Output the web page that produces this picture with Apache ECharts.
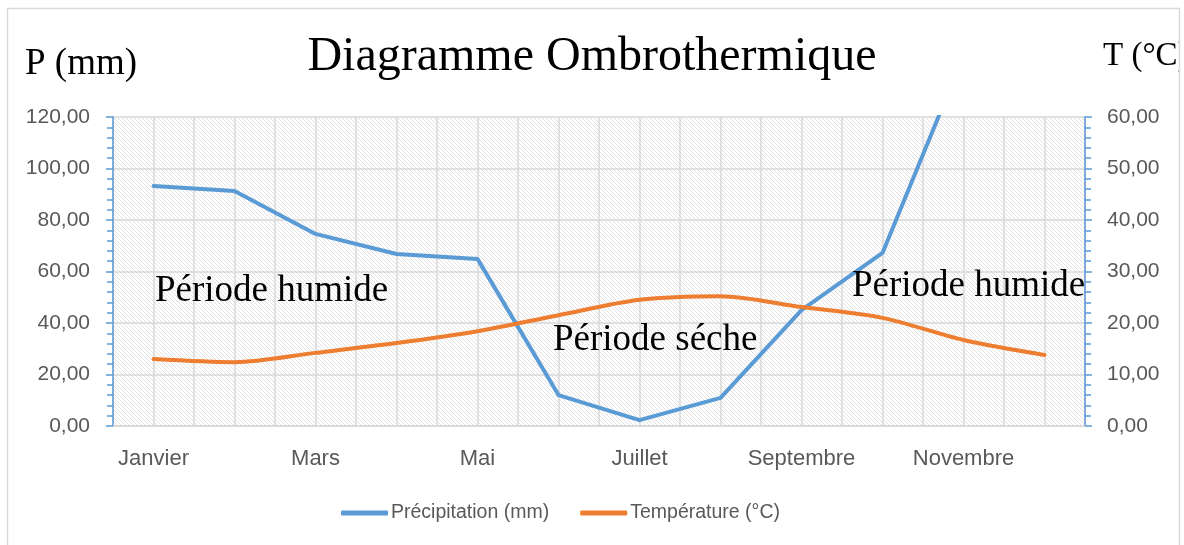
<!DOCTYPE html>
<html>
<head>
<meta charset="utf-8">
<title>Diagramme Ombrothermique</title>
<script src="https://cdn.jsdelivr.net/npm/echarts@6/dist/echarts.min.js"></script>
<style>
  html, body { margin: 0; padding: 0; background: #fff; }
  #chart { width: 1184px; height: 545px; }
</style>
</head>
<body>
<div id="chart"></div>
<script>
// données
var months = ['Janvier', 'Février', 'Mars', 'Avril', 'Mai', 'Juin', 'Juillet', 'Août', 'Septembre', 'Octobre', 'Novembre', 'Décembre'];
var precipitation = [93.2, 91.3, 74.6, 66.8, 64.9, 12.0, 2.3, 10.9, 45.0, 67.2, 143.7, 130.0];
var temperature = [13.0, 12.4, 14.2, 16.1, 18.4, 21.5, 24.5, 25.2, 23.1, 21.0, 16.7, 13.8];
var pAxis = [0, 120, 20];   // min, max, pas (mm)
var tAxis = [0, 60, 10];    // min, max, pas (°C)

var blue = '#5B9BD5', orange = '#ED7D31', grey = '#595959', gridCol = '#d9d9d9';
var sans = '"Liberation Sans", Arial, sans-serif';
var serif = '"Liberation Serif", "Times New Roman", serif';

// fond hachuré de la zone de tracé
function hatch() {
    var c = document.createElement('canvas');
    c.width = 8; c.height = 8;
    var ctx = c.getContext('2d');
    ctx.fillStyle = '#fff';
    ctx.fillRect(0, 0, 8, 8);
    ctx.strokeStyle = '#e2e2e2';
    ctx.lineWidth = 1;
    for (var k = -8; k <= 8; k += 4) {
        ctx.beginPath();
        ctx.moveTo(k, 0);
        ctx.lineTo(k + 8, 8);
        ctx.stroke();
    }
    return c;
}

function fmt(v) {
    return v.toFixed(2).replace('.', ',');
}

var myChart = echarts.init(document.getElementById('chart'));
var option = {
    backgroundColor: '#fff',
    animation: false,
    grid: {
        left: 113, right: 99, top: 117, bottom: 119,
        show: true,
        borderWidth: 0,
        backgroundColor: {image: hatch(), repeat: 'repeat'}
    },
    legend: {
        bottom: 17,
        left: 336,
        itemWidth: 47,
        itemHeight: 5,
        itemGap: 31,
        icon: 'roundRect',
        textStyle: {fontFamily: sans, fontSize: 19.5, color: grey, padding: [0, 0, 0, -2]},
        data: ['Précipitation (mm)', 'Température (°C)']
    },
    xAxis: [
        {
            type: 'category',
            data: months,
            boundaryGap: true,
            axisLine: {lineStyle: {color: gridCol, width: 1.5}},
            axisTick: {interval: 0, length: 7, lineStyle: {color: gridCol, width: 1.5}},
            axisLabel: {interval: 1, margin: 22, fontFamily: sans, fontSize: 22, color: grey},
            splitLine: {show: false}
        },
        {
            // grille verticale (toutes les demi-catégories)
            type: 'value',
            min: 0, max: 24, interval: 1,
            position: 'top',
            axisLine: {show: false},
            axisTick: {show: false},
            axisLabel: {show: false},
            splitLine: {show: true, lineStyle: {color: gridCol, width: 1.5}}
        }
    ],
    yAxis: [
        {
            type: 'value',
            min: pAxis[0], max: pAxis[1], interval: pAxis[2],
            axisLine: {show: true, lineStyle: {color: blue, width: 1.5}},
            axisTick: {show: true, length: 7, lineStyle: {color: blue, width: 1.5}},
            minorTick: {show: true, splitNumber: 5, length: 6, lineStyle: {color: blue, width: 1.5}},
            axisLabel: {margin: 23, fontFamily: sans, fontSize: 21, color: grey, formatter: fmt},
            splitLine: {show: true, lineStyle: {color: gridCol, width: 1.5}}
        },
        {
            type: 'value',
            position: 'right',
            min: tAxis[0], max: tAxis[1], interval: tAxis[2],
            axisLine: {show: true, lineStyle: {color: blue, width: 1.5}},
            axisTick: {show: true, length: 7, lineStyle: {color: blue, width: 1.5}},
            minorTick: {show: true, splitNumber: 5, length: 6, lineStyle: {color: blue, width: 1.5}},
            axisLabel: {margin: 22, fontFamily: sans, fontSize: 21, color: grey, formatter: fmt},
            splitLine: {show: false}
        }
    ],
    series: [
        {
            name: 'Précipitation (mm)',
            type: 'line',
            xAxisIndex: 0,
            yAxisIndex: 0,
            data: precipitation,
            symbol: 'none',
            clip: true,
            itemStyle: {color: blue},
            lineStyle: {color: blue, width: 4, cap: 'round', join: 'round'},
            z: 3
        },
        {
            name: 'Température (°C)',
            type: 'line',
            xAxisIndex: 0,
            yAxisIndex: 1,
            data: temperature,
            symbol: 'none',
            smooth: 0.3,
            itemStyle: {color: orange},
            lineStyle: {color: orange, width: 4, cap: 'round', join: 'round'},
            z: 4
        }
    ],
    graphic: [
        {type: 'text', x: 592, y: 57, z: 10, style: {text: 'Diagramme Ombrothermique', font: '48px ' + serif, fill: '#000', align: 'center', verticalAlign: 'middle'}},
        {type: 'text', x: 25, y: 64, z: 10, style: {text: 'P (mm)', font: '37px ' + serif, fill: '#000', align: 'left', verticalAlign: 'middle'}},
        {type: 'text', x: 1103, y: 56, z: 10, style: {text: 'T (°C)', font: '33px ' + serif, fill: '#000', align: 'left', verticalAlign: 'middle'}},
        {type: 'text', x: 155, y: 291, z: 10, style: {text: 'Période humide', font: '37px ' + serif, fill: '#000', align: 'left', verticalAlign: 'middle'}},
        {type: 'text', x: 553, y: 340, z: 10, style: {text: 'Période séche', font: '37px ' + serif, fill: '#000', align: 'left', verticalAlign: 'middle'}},
        {type: 'text', x: 852, y: 286, z: 10, style: {text: 'Période humide', font: '37px ' + serif, fill: '#000', align: 'left', verticalAlign: 'middle'}},
        // bord droit du cadre (coupe le texte)
        {type: 'rect', z: 20, shape: {x: 1180, y: 0, width: 10, height: 545}, style: {fill: '#fff'}},
        {type: 'rect', z: 21, shape: {x: 7.5, y: 8.5, width: 1172, height: 545}, style: {fill: null, stroke: gridCol, lineWidth: 1.5}}
    ]
};
myChart.setOption(option);
</script>
</body>
</html>
